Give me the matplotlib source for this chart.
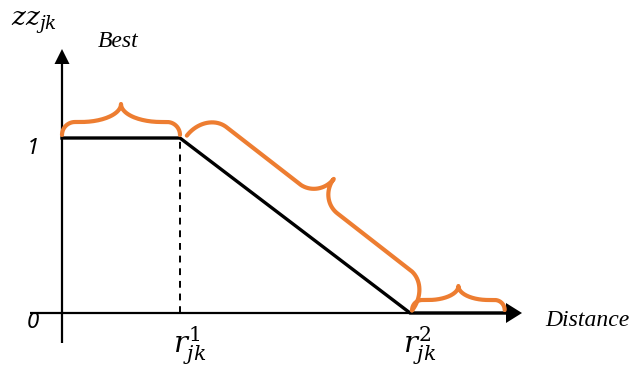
"""Piecewise-linear distance score diagram (zz_jk vs distance) with braces."""
import matplotlib
matplotlib.use('Agg')
import matplotlib.pyplot as plt
import numpy as np
from matplotlib.patches import Polygon

plt.rcParams['mathtext.fontset'] = 'dejavuserif'

# data: score falls linearly from 1 (at r1) to 0 (at r2)
r1 = 1.0
r2 = 2.95
distance = [0.0, r1, r2, 3.76]
score = [1.0, 1.0, 0.0, 0.0]
score_ticks = ['0', '1']
x_tick_labels = [r'$r_{jk}^{1}$', r'$r_{jk}^{2}$']
y_label = r'$zz_{jk}$'
x_label = 'Distance'
top_label = 'Best'

ORANGE = '#ED7D31'
PX_X, PX_Y = 118.0, 175.0      # pixels per data unit
X0, Y0 = 62.0, 313.0           # origin in image pixels (from top-left)
W, H = 635, 367

fig = plt.figure(figsize=(W / 100, H / 100), dpi=100)
ax = fig.add_axes([0, 0, 1, 1])
ax.set_xlim(-X0 / PX_X, (W - X0) / PX_X)
ax.set_ylim(-(H - Y0) / PX_Y, Y0 / PX_Y)
ax.axis('off')


def px(x, y):
    """image pixel (top-left origin) -> data coords"""
    return (x - X0) / PX_X, (Y0 - y) / PX_Y


# axes lines
ax.plot([px(30, 0)[0], px(508, 0)[0]], [0, 0], color='black', lw=1.6, solid_capstyle='butt')
ax.plot([0, 0], [px(0, 343)[1], px(0, 64)[1]], color='black', lw=1.6, solid_capstyle='butt')

# arrow heads (sizes in pixels)
def head(tip, direction, length, half_w):
    tx, ty = tip
    if direction == 'right':
        pts = [(tx, ty), (tx - length / PX_X, ty + half_w / PX_Y), (tx - length / PX_X, ty - half_w / PX_Y)]
    else:
        pts = [(tx, ty), (tx - half_w / PX_X, ty - length / PX_Y), (tx + half_w / PX_X, ty - length / PX_Y)]
    ax.add_patch(Polygon(pts, closed=True, color='black', lw=0))

head(px(522, 313), 'right', 16, 10)
head(px(62, 49), 'up', 15, 7.5)

# score curve
ax.plot(distance, score, color='black', lw=2.4, solid_joinstyle='miter')
ax.plot([r1, r1], [0, 1], color='black', lw=1.4, ls=(0, (3.5, 3)))


def brace(p0, p1, rise_end, rise_tip, r_end, r_tip, gap=3):
    """curly brace from p0 to p1 (data), bulging to the left of p0->p1"""
    d0 = ax.transData.transform(p0)
    d1 = ax.transData.transform(p1)
    v = d1 - d0
    L = np.hypot(*v)
    u = v / L
    n = np.array([-u[1], u[0]])
    t = np.linspace(0, np.pi / 2, 40)
    # first quarter: end curl, plateau, tip curl
    a = np.c_[r_end - r_end * np.cos(t), rise_end * np.sin(t)]
    b = np.c_[L / 2 - r_tip + r_tip * np.sin(t), rise_end + rise_tip - rise_tip * np.cos(t)]
    half = np.vstack([a, b])
    other = np.c_[L - half[::-1, 0], half[::-1, 1]]
    pts = np.vstack([half, other])
    disp = d0 + np.outer(pts[:, 0], u) + np.outer(pts[:, 1] + gap, n)
    dat = ax.transData.inverted().transform(disp)
    ax.plot(dat[:, 0], dat[:, 1], color=ORANGE, lw=3, solid_capstyle='round')


brace((0, score[0]), (r1, score[1]), 13, 18, 13, 40)
brace((r1 + 5 / PX_X, score[1]), (r2, score[2]), 31, 25, 26, 24)
brace((r2 + 2 / PX_X, score[2]), (distance[3] - 1 / PX_X, score[3]), 10, 14, 10, 30)

# labels
ax.text(*px(33, 149), score_ticks[1], fontsize=16, style='italic', family='Noto Sans', ha='center', va='center')
ax.text(*px(33, 323), score_ticks[0], fontsize=16, style='italic', family='Noto Sans', ha='center', va='center')
ax.text(r1 + 10 / PX_X, px(0, 346)[1], x_tick_labels[0], fontsize=21, ha='center', va='center')
ax.text(r2 + 10 / PX_X, px(0, 346)[1], x_tick_labels[1], fontsize=21, ha='center', va='center')
ax.text(*px(11, 23), y_label, fontsize=19, ha='left', va='center')
ax.text(*px(118, 42), top_label, fontsize=17, style='italic', family='Liberation Serif', ha='center', va='center')
ax.text(*px(545, 320), x_label, fontsize=17, style='italic', family='Liberation Serif', ha='left', va='center')

plt.savefig('out.png', dpi=100)
plt.close()
